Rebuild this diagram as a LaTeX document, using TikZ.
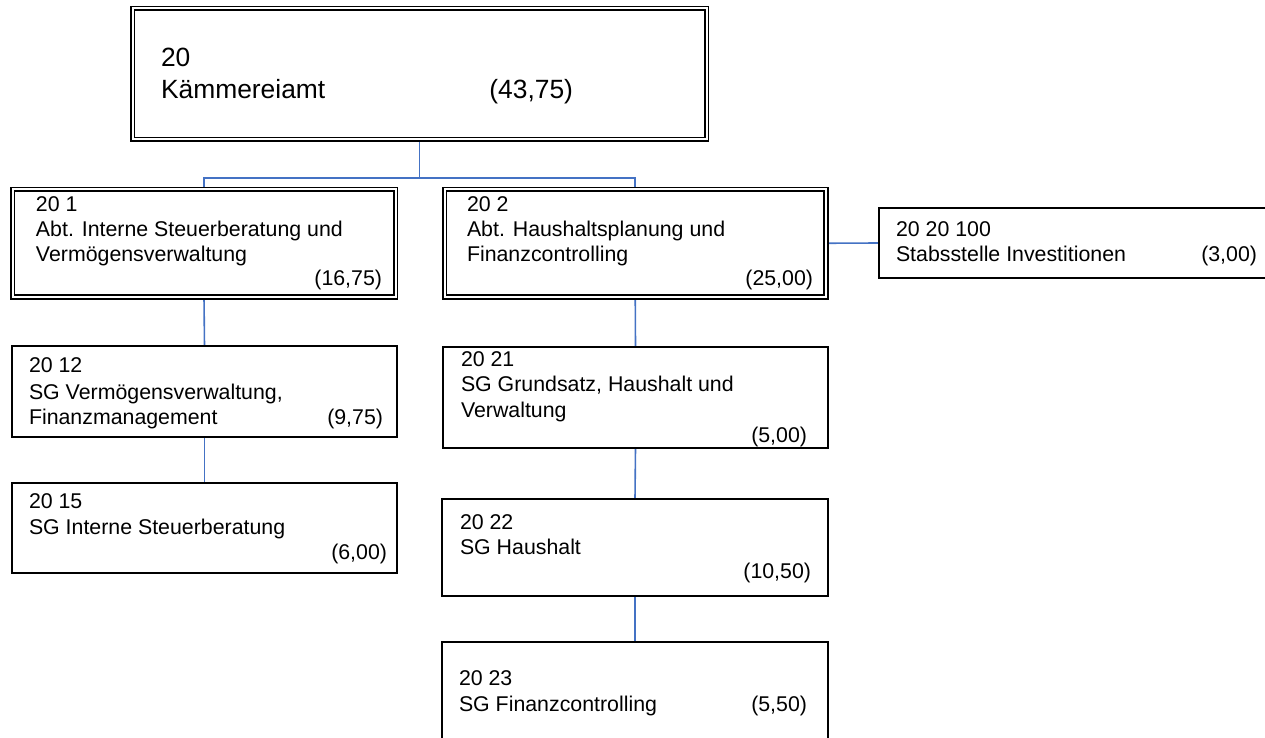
\documentclass[tikz,border=0pt]{standalone}
\usepackage{fontspec}
\setmainfont{Liberation Sans}
\usetikzlibrary{fit,backgrounds}
\definecolor{connblue}{RGB}{68,114,196}
\tikzset{
  sbox/.style={draw=black, line width=1.2pt, fill=white, inner sep=0pt, outer sep=0pt},
  dbox/.style={draw=black, line width=1.35pt, double=white, double distance=1.5pt, fill=white, inner sep=0pt, outer sep=0pt},
  conn/.style={draw=connblue, line width=1.2pt},
  txt/.style={inner sep=0pt, outer sep=0pt, anchor=base west, font=\fontsize{16}{19}\selectfont},
  num/.style={txt, anchor=base east},
  bigtxt/.style={inner sep=0pt, outer sep=0pt, anchor=base west, font=\fontsize{19.8}{24}\selectfont},
  bignum/.style={bigtxt, anchor=base east}
}
\begin{document}
\begin{tikzpicture}[x=0.75pt, y=-0.75pt]
\useasboundingbox (0,0) rectangle (1265,738);
\clip (0,0) rectangle (1265,738);

% boxes
\node[dbox, fit={(132.5,8.5) (706.5,139.5)}] (top) {};
\node[dbox, fit={(12.5,189.5) (395.5,297)}] (b1) {};
\node[dbox, fit={(444.5,189.5) (826,297)}] (b2) {};
\node[sbox, fit={(879,208) (1280,278)}] (s) {};
\node[sbox, fit={(12,346) (397,437)}] (c12) {};
\node[sbox, fit={(12,483) (397,573)}] (c15) {};
\node[sbox, fit={(443,347) (828,448)}] (c21) {};
\node[sbox, fit={(442,499) (828,596)}] (c22) {};
\node[sbox, fit={(442,642) (828,770)}] (c23) {};

% connectors
\begin{scope}[on background layer]
\fill[white] (0,0) rectangle (1265,738);
\coordinate (j) at (419.5,178);
\draw[conn] (top.south) -- (j);
\draw[conn] (j) -| (b1.north);
\draw[conn] (j) -| (b2.north);
\draw[conn] (b2.east) -- (s.west);
\draw[conn] (b1.south) -- (c12.north);
\draw[conn] (c12.south) -- (c15.north);
\draw[conn] (b2.south) -- (c21.north);
\draw[conn] (c21.south) -- (c22.north);
\draw[conn] (c22.south) -- (c23.north);
\end{scope}

% texts
\node[bigtxt] (t1) at (161,67) {20};
\node[bigtxt] (t2) at (161,99) {Kämmereiamt};
\node[bignum] (t3) at (573,99) {(43,75)};

\node[txt] (b1a) at (36,212) {20 1};
\node[txt] (b1b) at (36,237) {Abt. Interne Steuerberatung und};
\node[txt] (b1c) at (36,262) {Vermögensverwaltung};
\node[num] (b1d) at (382,286) {(16,75)};

\node[txt] (b2a) at (467,212) {20 2};
\node[txt] (b2b) at (467,237) {Abt. Haushaltsplanung und};
\node[txt] (b2c) at (467,262) {Finanzcontrolling};
\node[num] (b2d) at (813,286) {(25,00)};

\node[txt] (sa) at (896,237) {20 20 100};
\node[txt] (sb) at (896,262) {Stabsstelle Investitionen};
\node[num] (sc) at (1257,262) {(3,00)};

\node[txt] (c12a) at (29,373) {20 12};
\node[txt] (c12b) at (29,399) {SG Vermögensverwaltung,};
\node[txt] (c12c) at (29,424) {Finanzmanagement};
\node[num] (c12d) at (383,424) {(9,75)};

\node[txt] (c15a) at (29,508) {20 15};
\node[txt] (c15b) at (29,534) {SG Interne Steuerberatung};
\node[num] (c15c) at (387,559) {(6,00)};

\node[txt] (c21a) at (461,366) {20 21};
\node[txt] (c21b) at (461,391) {SG Grundsatz, Haushalt und};
\node[txt] (c21c) at (461,417) {Verwaltung};
\node[num] (c21d) at (807,442) {(5,00)};

\node[txt] (c22a) at (460,529) {20 22};
\node[txt] (c22b) at (460,554) {SG Haushalt};
\node[num] (c22c) at (811,578) {(10,50)};

\node[txt] (c23a) at (459,685) {20 23};
\node[txt] (c23b) at (459,711) {SG Finanzcontrolling};
\node[num] (c23c) at (807,711) {(5,50)};
\end{tikzpicture}
\end{document}
